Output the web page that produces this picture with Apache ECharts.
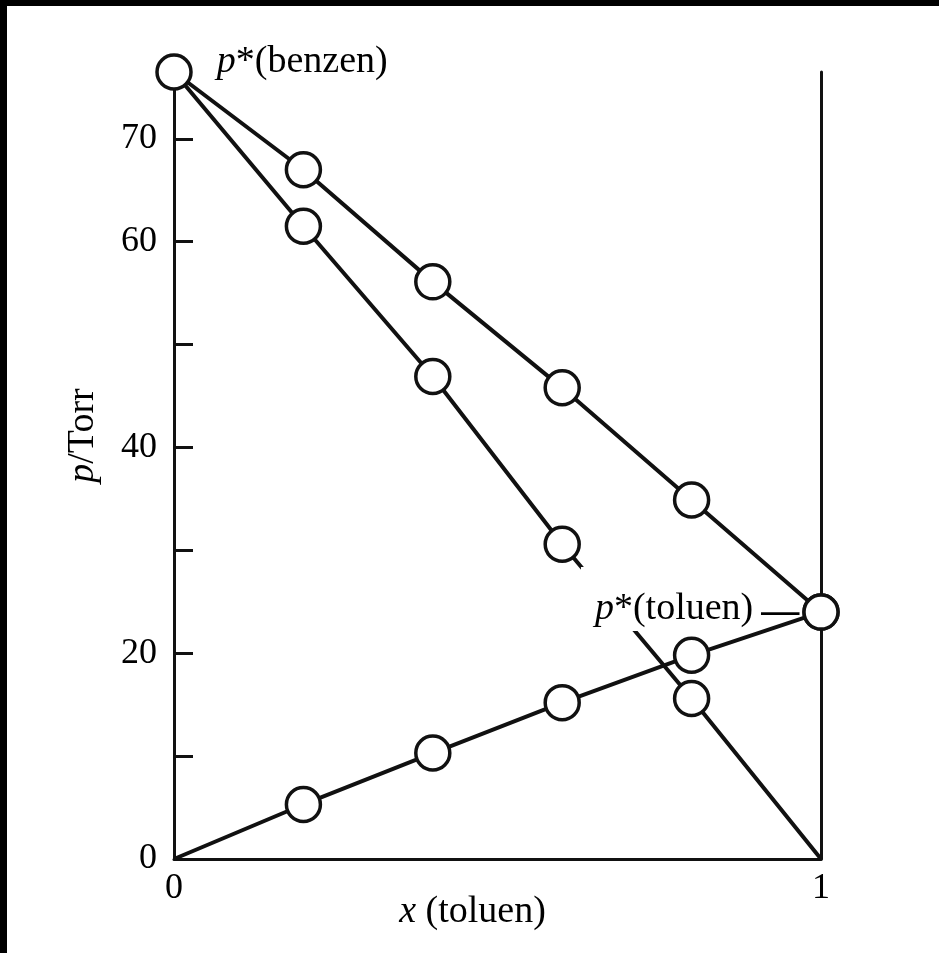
<!DOCTYPE html>
<html>
<head>
<meta charset="utf-8">
<script src="https://cdn.jsdelivr.net/npm/echarts@6/dist/echarts.min.js"></script>
<style>
  html, body { margin: 0; padding: 0; background: #000; width: 939px; height: 953px; overflow: hidden; }
  #chart { position: absolute; left: 7px; top: 6px; width: 932px; height: 947px; background: #fff; }
</style>
</head>
<body>
<div id="chart"></div>
<script>
// mole fraction of toluene
const xs = [0, 0.2, 0.4, 0.6, 0.8, 1];
// total vapour pressure (Torr)
const totalP = [76.5, 67.0, 56.1, 45.8, 34.9, 24.0];
// partial pressure of benzene (Torr)
const benzeneP = [76.5, 61.5, 46.9, 30.6, 15.6, 0];
// partial pressure of toluene (Torr)
const tolueneP = [0, 5.3, 10.3, 15.2, 19.8, 24.0];
// axis ticks and labels
const yTickValues = [0, 10, 20, 30, 40, 50, 60, 70];
const yLabelValues = [0, 20, 40, 60, 70];
const xLabelValues = [0, 1];
const yMax = 76.5;

const FONT = "'Liberation Serif', 'Times New Roman', serif";
const INK = '#111';
const TXT = '#000';
const FS = 38;
const TFS = 36;

function pairs(ys) { return xs.map((x, i) => [x, ys[i]]); }

const circleStyle = { color: '#fff', borderColor: INK, borderWidth: 3.5, opacity: 1 };
const italic = { fontStyle: 'italic', fontFamily: FONT, fontSize: FS, color: TXT };

const circles = [];
pairs(totalP).forEach((p, i) => {
  const item = { value: p };
  if (i === 0) {
    item.label = {
      show: true, position: 'right', distance: 24, offset: [0, -10],
      formatter: '{i|p}*(benzen)',
      color: TXT, fontFamily: FONT, fontSize: FS,
      rich: { i: italic }
    };
  }
  if (i === xs.length - 1) {
    item.label = {
      show: true, position: 'left', distance: 47,
      formatter: '{i|p}*(toluen)',
      color: TXT, fontFamily: FONT, fontSize: FS, lineHeight: 40,
      backgroundColor: '#fff', padding: [22, 2, 2, 14], offset: [0, -13],
      rich: { i: Object.assign({ lineHeight: 40 }, italic) }
    };
  }
  circles.push(item);
});
pairs(benzeneP).forEach((p, i) => { if (i > 0 && i < xs.length - 1) circles.push({ value: p }); });
pairs(tolueneP).forEach((p, i) => {
  if (i > 0 && i < xs.length - 1) circles.push({ value: p });
  if (i === xs.length - 1) {
    circles.push({ value: p, label: {
      show: true, position: 'left', distance: 3, formatter: '—',
      color: TXT, fontFamily: FONT, fontSize: FS, fontWeight: 'bold', offset: [0, 1]
    }});
  }
});

const lineSeries = (name, ys) => ({
  name, type: 'line', data: pairs(ys), showSymbol: false, symbol: 'none',
  lineStyle: { color: INK, width: 4 }, z: 2, silent: true
});

const chart = echarts.init(document.getElementById('chart'), null, { renderer: 'canvas' });
chart.setOption({
  backgroundColor: '#fff',
  animation: false,
  grid: { left: 167, right: 118, top: 66, bottom: 94 },
  xAxis: {
    type: 'value', min: 0, max: 1,
    name: '{i|x} (toluen)', nameLocation: 'middle', nameGap: 34, nameMoveOverlap: false,
    nameTextStyle: { color: TXT, fontFamily: FONT, fontSize: FS, padding: [0, 50, 0, 0], rich: { i: italic } },
    axisLine: { show: true, lineStyle: { color: INK, width: 3 } },
    axisTick: { show: false },
    splitLine: { show: false },
    axisLabel: { customValues: xLabelValues, color: TXT, fontFamily: FONT, fontSize: TFS, margin: 12,
      formatter: v => String(v) }
  },
  yAxis: [{
    type: 'value', min: 0, max: yMax, position: 'left',
    name: '{i|p}/Torr', nameLocation: 'middle', nameGap: 72, nameRotate: 90, nameMoveOverlap: false,
    nameTextStyle: { color: TXT, fontFamily: FONT, fontSize: FS, padding: [0, 0, 0, 60], rich: { i: italic } },
    axisLine: { show: true, lineStyle: { color: INK, width: 3 } },
    axisTick: { show: true, inside: true, length: 19, customValues: yTickValues, lineStyle: { color: INK, width: 3 } },
    splitLine: { show: false },
    axisLabel: { customValues: yLabelValues, color: TXT, fontFamily: FONT, fontSize: TFS, margin: 17,
      formatter: v => String(v) }
  }, {
    type: 'value', min: 0, max: yMax, position: 'right',
    axisLine: { show: true, lineStyle: { color: INK, width: 3 } },
    axisTick: { show: false }, axisLabel: { show: false }, splitLine: { show: false }
  }],
  series: [
    lineSeries('total', totalP),
    lineSeries('benzene', benzeneP),
    lineSeries('toluene', tolueneP),
    {
      name: 'points', type: 'scatter', data: circles, symbol: 'circle', symbolSize: 34,
      itemStyle: circleStyle, z: 5, silent: true
    }
  ]
});
</script>
</body>
</html>
